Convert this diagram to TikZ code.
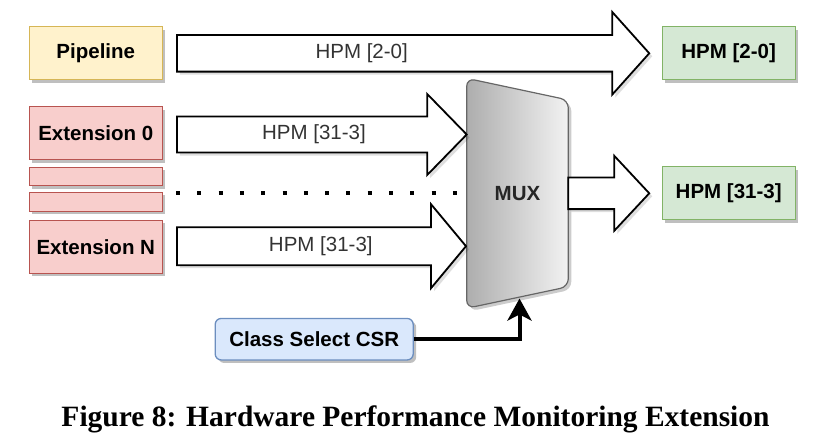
\documentclass[tikz,border=0pt]{standalone}
\usepackage{fontspec}
\setmainfont{Liberation Sans}
\newfontfamily\capfont{Liberation Serif}
\usetikzlibrary{calc,shadows,arrows.meta}
\definecolor{yfill}{HTML}{FFF2CC}\definecolor{ydraw}{HTML}{D6B656}
\definecolor{rfill}{HTML}{F8CECC}\definecolor{rdraw}{HTML}{B85450}
\definecolor{gfill}{HTML}{D5E8D4}\definecolor{gdraw}{HTML}{82B366}
\definecolor{bfill}{HTML}{DAE8FC}\definecolor{bdraw}{HTML}{6C8EBF}
\definecolor{lbl}{HTML}{333333}
\tikzset{
  shd/.style={drop shadow={shadow xshift=3pt,shadow yshift=-3pt,opacity=0.25,fill=black}},
  box/.style={draw,line width=1.3pt,minimum width=133pt,minimum height=53pt,inner sep=0pt,
    font=\bfseries\fontsize{20.5}{24}\selectfont,text=black,shd},
  ybox/.style={box,fill=yfill,draw=ydraw},
  rbox/.style={box,fill=rfill,draw=rdraw},
  sbox/.style={draw=rdraw,fill=rfill,line width=1.3pt,minimum width=133pt,inner sep=0pt,shd},
  gbox/.style={box,fill=gfill,draw=gdraw},
  bbox/.style={box,fill=bfill,draw=bdraw,rounded corners=6pt,minimum width=198pt,minimum height=41.5pt},
  fatarrow/.style={draw=black,fill=white,line width=1.8pt,line join=miter},
  fatshadow/.style={fill=black,opacity=0.13},
  arrlabel/.style={font=\fontsize{20.5}{24}\selectfont,text=lbl,inner sep=0pt},
  muxstyle/.style={draw=black!60,line width=1.2pt,left color=black!32,right color=black!5,rounded corners=8pt},
  thickconn/.style={line width=4pt,-{Stealth[length=22pt,width=24pt,inset=6pt]}},
  dotline/.style={line width=4pt,dash pattern=on 4pt off 17.3pt},
}
% #1 start, #2 tip, #3 body half, #4 head half, #5 head length
\newcommand\fatarr[5]{%
  \fill[fatshadow] let \p1=(#1), \p2=(#2) in
    ([shift={(3pt,-3pt)}]\x1,\y1+#3) -- ([shift={(3pt,-3pt)}]\x2-#5,\y1+#3) -- ([shift={(3pt,-3pt)}]\x2-#5,\y1+#4) --
    ([shift={(3pt,-3pt)}]\x2,\y1) -- ([shift={(3pt,-3pt)}]\x2-#5,\y1-#4) -- ([shift={(3pt,-3pt)}]\x2-#5,\y1-#3) --
    ([shift={(3pt,-3pt)}]\x1,\y1-#3) -- cycle;
  \draw[fatarrow] let \p1=(#1), \p2=(#2) in
    (\x1,\y1+#3) -- (\x2-#5,\y1+#3) -- (\x2-#5,\y1+#4) -- (\x2,\y1) --
    (\x2-#5,\y1-#4) -- (\x2-#5,\y1-#3) -- (\x1,\y1-#3) -- cycle;}
\begin{document}
\begin{tikzpicture}[x=1pt,y=-1pt]
\useasboundingbox (0,0) rectangle (823,447);
% source boxes
\node[ybox] (pipe) at (95.8,53.3) {Pipeline};
\node[rbox] (ext0) at (95.8,133) {Extension 0};
\node[sbox,minimum height=18.4pt] (s1) at (95.8,176.5) {};
\node[sbox,minimum height=19pt] (s2) at (95.8,201.8) {};
\node[rbox] (extN) at (95.8,246.7) {Extension N};
% outputs
\node[gbox] (out20) at (728.7,53.3) {HPM [2-0]};
\node[gbox] (out313) at (728.7,193.3) {HPM [31-3]};
% mux
\fill[black,opacity=0.2,rounded corners=8pt] (469.7,196.3) -- (469.7,81.3) -- (571.3,103) -- (571.3,289.7) -- (469.7,311.3) -- cycle;
\draw[muxstyle] (466.7,193.3) -- (466.7,78.3) -- (568.3,100) -- (568.3,286.7) -- (466.7,308.3) -- cycle;
\node[font=\bfseries\fontsize{20.5}{24}\selectfont,text=black!85] (mux) at (517.5,193.3) {MUX};
\coordinate (muxB) at (519.5,298.5);
% fat arrows
\coordinate (a1s) at ($(pipe.east)+(14,0)$);
\coordinate (a1t) at ($(out20.west)+(-12.3,0)$);
\fatarr{a1s}{a1t}{18.3pt}{41.3pt}{37pt}
\node[arrlabel] (l1) at (361.7,53.3) {HPM [2-0]};
\coordinate (a2s) at ($(ext0.east)+(14,1.5)$);
\coordinate (a2t) at (466.7,134.5);
\fatarr{a2s}{a2t}{18pt}{40.5pt}{39.5pt}
\node[arrlabel] (l2) at (314,134.5) {HPM [31-3]};
\coordinate (a3s) at ($(extN.east)+(14,-0.5)$);
\coordinate (a3t) at (466,246.2);
\fatarr{a3s}{a3t}{19pt}{42pt}{35pt}
\node[arrlabel] (l3) at (320.8,246.2) {HPM [31-3]};
\coordinate (a4s) at (568.3,193.3);
\coordinate (a4t) at ($(out313.west)+(-12.3,0)$);
\fatarr{a4s}{a4t}{15.8pt}{37.5pt}{35pt}
% dots
\coordinate (d1) at (176,193.3);
\coordinate (d2) at (458,193.3);
\draw[dotline] (d1) -- (d2);
% class select
\node[bbox] (csr) at (314.2,339.2) {Class Select CSR};
\draw[thickconn] (csr.east) -| (muxB);
% caption
\node[inner sep=0pt,anchor=base] (cap) at (415.5,426.7)
  {\resizebox{708pt}{!}{\capfont\bfseries\fontsize{28}{32}\selectfont Figure 8: Hardware Performance Monitoring Extension}};
\end{tikzpicture}
\end{document}
